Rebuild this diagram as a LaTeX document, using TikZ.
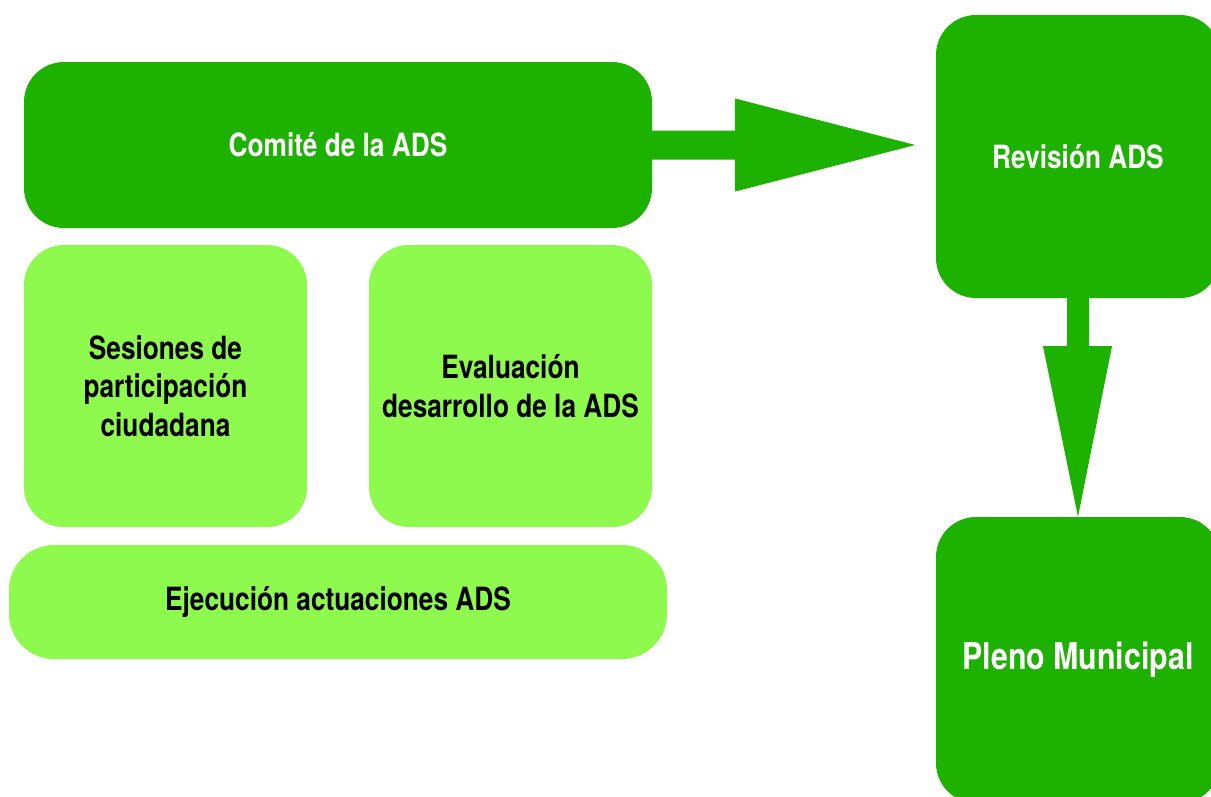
\documentclass[tikz,border=0pt]{standalone}
\usepackage{fontspec}
\setmainfont{TeX Gyre Heros}[FakeStretch=0.82]
\usetikzlibrary{calc}
\definecolor{darkg}{HTML}{1DB100}
\definecolor{lightg}{HTML}{8EFA4E}
\tikzset{
  darkbox/.style={fill=darkg, draw=none, rounded corners=40pt, inner sep=0pt,
    text=white, font=\bfseries\fontsize{32}{38.5}\selectfont, align=center},
  lightbox/.style={fill=lightg, draw=none, rounded corners=40pt, inner sep=0pt,
    text=black, font=\bfseries\fontsize{32}{38.5}\selectfont, align=center},
  fatarrow/.style={fill=darkg, draw=none}
}
\begin{document}
\begin{tikzpicture}[x=1pt,y=-1pt]
\useasboundingbox (0,0) rectangle (1211,796);
\node[darkbox, minimum width=628pt, minimum height=166pt] (comite) at (338,145) {Comité de la ADS};
\node[lightbox, minimum width=283pt, minimum height=282pt] (sesiones) at (165.5,386) {Sesiones de\\participación\\ciudadana};
\node[lightbox, minimum width=283pt, minimum height=282pt] (evaluacion) at (510.5,386) {Evaluación\\desarrollo de la ADS};
\node[lightbox, rounded corners=45pt, minimum width=658pt, minimum height=114pt] (ejecucion) at (338,602) {Ejecución actuaciones ADS};
\node[darkbox, minimum width=284pt, minimum height=283pt] (revision) at (1078,156.5) {Revisión ADS};
\node[darkbox, minimum width=284pt, minimum height=286pt, font=\bfseries\fontsize{37}{44}\selectfont] (pleno) at (1078,660) {Pleno Municipal};
% right arrow
\coordinate (rtip) at ($(comite.east)+(263,0)$);
\fill[fatarrow] ($(comite.east)+(-2,-14.5)$) -- ($(comite.east)+(83,-14.5)$) -- ($(comite.east)+(83,-46.5)$)
  -- (rtip) -- ($(comite.east)+(83,46.5)$) -- ($(comite.east)+(83,14.5)$) -- ($(comite.east)+(-2,14.5)$) -- cycle;
% down arrow
\coordinate (dtip) at (pleno.north);
\fill[fatarrow] ($(revision.south)+(-11,-2)$) -- ($(revision.south)+(-11,48)$) -- ($(revision.south)+(-35,48)$)
  -- (dtip) -- ($(revision.south)+(34,48)$) -- ($(revision.south)+(11,48)$) -- ($(revision.south)+(11,-2)$) -- cycle;
\end{tikzpicture}
\end{document}
